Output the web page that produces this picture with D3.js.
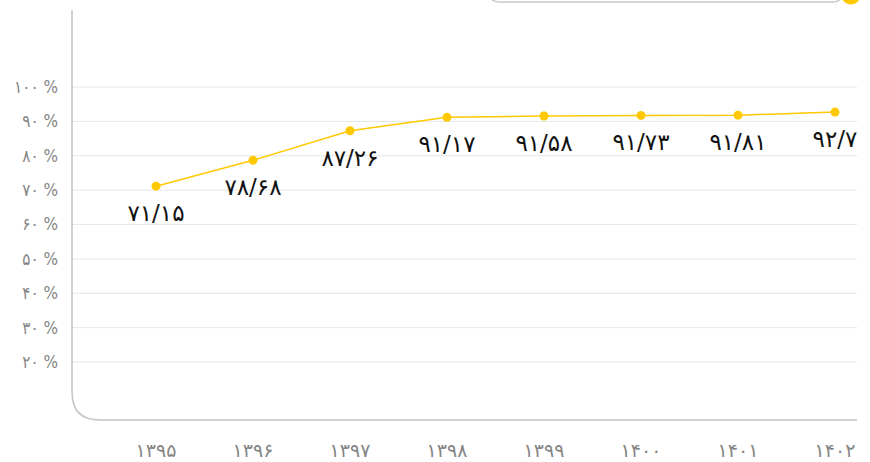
<!DOCTYPE html>
<html>
<head>
<meta charset="utf-8">
<script src="https://cdn.jsdelivr.net/npm/d3@7"></script>
<style>
  body { margin: 0; background: #fff; }
  svg { display: block; font-family: "DejaVu Sans", sans-serif; }
</style>
</head>
<body>
<script>
const WIDTH = 870;
const HEIGHT = 462;

// data
const years = [1395, 1396, 1397, 1398, 1399, 1400, 1401, 1402];
const values = [71.15, 78.68, 87.26, 91.17, 91.58, 91.73, 91.81, 92.7];
const yTicks = [20, 30, 40, 50, 60, 70, 80, 90, 100];

const FA_DIGITS = "۰۱۲۳۴۵۶۷۸۹";
const toFa = s => String(s).replace(/\d/g, d => FA_DIGITS[+d]).replace(".", "/");

const AXIS_X = 72;
const AXIS_BOTTOM = 420;
const PLOT_RIGHT = 857;
const CORNER = 28;

const svg = d3.select("body").append("svg")
  .attr("width", WIDTH)
  .attr("height", HEIGHT);

const xScale = d3.scalePoint()
  .domain(years)
  .range([156, 835]);

const yScale = d3.scaleLinear()
  .domain([20, 100])
  .range([362, 87]);

// legend box, mostly scrolled off the top
svg.append("rect")
  .attr("x", 487)
  .attr("y", -40)
  .attr("width", 358)
  .attr("height", 42)
  .attr("rx", 12)
  .attr("fill", "none")
  .attr("stroke", "#c8c8c8")
  .attr("stroke-width", 1.5);

svg.append("circle")
  .attr("cx", 851)
  .attr("cy", -5)
  .attr("r", 9.5)
  .attr("fill", "#ffc800");

// grid lines
svg.append("g")
  .selectAll("line")
  .data(yTicks)
  .join("line")
  .attr("x1", AXIS_X)
  .attr("x2", PLOT_RIGHT)
  .attr("y1", d => yScale(d))
  .attr("y2", d => yScale(d))
  .attr("stroke", "#e6e6e6")
  .attr("stroke-width", 1);

// y tick labels
svg.append("g")
  .selectAll("text")
  .data(yTicks)
  .join("text")
  .attr("x", 58)
  .attr("y", d => yScale(d))
  .attr("dy", "0.35em")
  .attr("text-anchor", "end")
  .attr("direction", "ltr")
  .attr("font-family", "'DejaVu Sans Condensed', 'DejaVu Sans', sans-serif")
  .attr("font-size", 17)
  .attr("fill", "#858585")
  .text(d => toFa(d) + " %");

// frame: left axis with rounded corner into the bottom axis
svg.append("path")
  .attr("d", `M${AXIS_X},10 V${AXIS_BOTTOM - CORNER} Q${AXIS_X},${AXIS_BOTTOM} ${AXIS_X + CORNER},${AXIS_BOTTOM} H${PLOT_RIGHT}`)
  .attr("fill", "none")
  .attr("stroke", "#c4c4c4")
  .attr("stroke-width", 1.5);

// x labels
svg.append("g")
  .selectAll("text")
  .data(years)
  .join("text")
  .attr("x", d => xScale(d))
  .attr("y", 457)
  .attr("text-anchor", "middle")
  .attr("font-size", 19)
  .attr("fill", "#858585")
  .text(d => toFa(d));

const points = years.map((year, i) => ({ year, value: values[i] }));

const line = d3.line()
  .x(d => xScale(d.year))
  .y(d => yScale(d.value));

svg.append("path")
  .datum(points)
  .attr("d", line)
  .attr("fill", "none")
  .attr("stroke", "#ffc800")
  .attr("stroke-width", 1.5);

svg.append("g")
  .selectAll("circle")
  .data(points)
  .join("circle")
  .attr("cx", d => xScale(d.year))
  .attr("cy", d => yScale(d.value))
  .attr("r", 4.5)
  .attr("fill", "#ffc800");

// value labels under each point
svg.append("g")
  .selectAll("text")
  .data(points)
  .join("text")
  .attr("x", d => xScale(d.year))
  .attr("y", d => yScale(d.value) + 35)
  .attr("text-anchor", "middle")
  .attr("direction", "ltr")
  .attr("font-size", 23)
  .attr("fill", "#111")
  .text(d => toFa(d.value));
</script>
</body>
</html>
